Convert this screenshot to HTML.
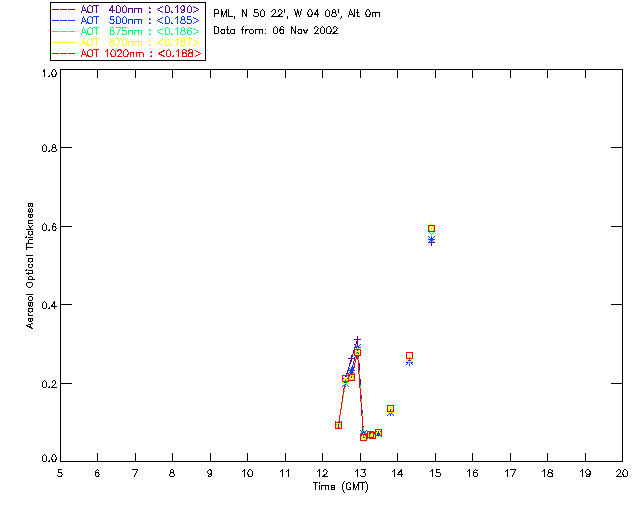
<!DOCTYPE html>
<html><head><meta charset="utf-8"><title>AOT plot</title>
<style>
html,body{margin:0;padding:0;background:#fff;font-family:"Liberation Sans",sans-serif;}
svg{display:block;}
</style></head><body>
<svg width="640" height="512" viewBox="0 0 640 512" shape-rendering="crispEdges" fill="none" stroke-width="1" stroke-linecap="square" stroke-linejoin="miter">
<rect x="0" y="0" width="640" height="512" fill="#fff" stroke="none"/>
<g stroke="#000">
<rect x="60.5" y="69.5" width="562" height="392"/>
<path d="M97.5 453V462M97.5 69V78M135.5 453V462M135.5 69V78M172.5 453V462M172.5 69V78M210.5 453V462M210.5 69V78M247.5 453V462M247.5 69V78M285.5 453V462M285.5 69V78M322.5 453V462M322.5 69V78M360.5 453V462M360.5 69V78M397.5 453V462M397.5 69V78M435.5 453V462M435.5 69V78M472.5 453V462M472.5 69V78M510.5 453V462M510.5 69V78M547.5 453V462M547.5 69V78M585.5 453V462M585.5 69V78M60 383.5H72M611 383.5H623M60 304.5H72M611 304.5H623M60 226.5H72M611 226.5H623M60 147.5H72M611 147.5H623" stroke-linecap="butt"/>
<rect x="50.5" y="2.5" width="155" height="58"/>
</g>
<path d="M52.5 9.5 58.5 9.5M60.5 9.5 66.5 9.5M68.5 9.5 74.5 9.5M81.5 12.5 83.5 5.5 86.5 12.5M82.5 10.5 85.5 10.5M87.5 8.5 87.5 7.5 88.5 6.5 89.5 5.5 90.5 5.5 91.5 6.5 92.5 6.5 92.5 7.5 92.5 8.5 92.5 10.5 92.5 11.5 91.5 12.5 90.5 12.5 89.5 12.5 88.5 12.5 88.5 11.5 87.5 11.5 87.5 10.5 87.5 8.5M93.5 5.5 98.5 5.5M96.5 5.5 96.5 12.5M112.5 12.5 112.5 5.5 109.5 10.5 114.5 10.5M116.5 8.5 116.5 7.5 116.5 6.5 117.5 5.5 118.5 5.5 119.5 6.5 120.5 7.5 120.5 8.5 120.5 9.5 120.5 11.5 119.5 12.5 118.5 12.5 117.5 12.5 116.5 12.5 116.5 11.5 116.5 9.5 116.5 8.5M122.5 8.5 122.5 7.5 123.5 6.5 124.5 5.5 125.5 6.5 126.5 7.5 126.5 8.5 126.5 9.5 126.5 11.5 125.5 12.5 124.5 12.5 123.5 12.5 122.5 11.5 122.5 9.5 122.5 8.5M128.5 8.5 128.5 12.5M128.5 9.5 129.5 8.5 130.5 8.5 131.5 8.5 132.5 8.5 132.5 9.5 132.5 12.5M134.5 8.5 134.5 12.5M134.5 9.5 135.5 8.5 136.5 8.5 137.5 8.5 138.5 8.5 138.5 9.5 138.5 12.5M138.5 9.5 139.5 8.5 140.5 8.5 141.5 8.5 141.5 9.5 141.5 12.5M149.5 8.5 149.5 7.5 150.5 8.5 149.5 8.5M149.5 12.5 149.5 11.5 150.5 12.5 149.5 12.5M162.5 6.5 157.5 9.5 162.5 12.5M165.5 8.5 165.5 7.5 165.5 6.5 166.5 5.5 167.5 5.5 168.5 6.5 169.5 7.5 169.5 8.5 169.5 9.5 169.5 11.5 168.5 12.5 167.5 12.5 166.5 12.5 165.5 12.5 165.5 11.5 165.5 9.5 165.5 8.5M171.5 12.5 171.5 11.5 172.5 12.5 171.5 12.5M175.5 7.5 176.5 6.5 177.5 5.5 177.5 12.5M181.5 11.5 181.5 12.5 182.5 12.5 183.5 12.5 184.5 11.5 184.5 9.5 184.5 8.5 184.5 6.5 183.5 6.5 183.5 5.5 182.5 5.5 181.5 6.5 180.5 7.5 180.5 8.5 181.5 9.5 182.5 10.5 183.5 10.5 183.5 9.5 184.5 9.5 184.5 8.5M187.5 8.5 187.5 7.5 188.5 6.5 189.5 5.5 190.5 6.5 191.5 7.5 191.5 8.5 191.5 9.5 191.5 11.5 190.5 12.5 189.5 12.5 188.5 12.5 187.5 11.5 187.5 9.5 187.5 8.5M193.5 6.5 198.5 9.5 193.5 12.5" stroke="#5A009E" stroke-linejoin="bevel"/>
<path d="M52.5 20.5 58.5 20.5M60.5 20.5 66.5 20.5M68.5 20.5 74.5 20.5M81.5 23.5 83.5 16.5 86.5 23.5M82.5 21.5 85.5 21.5M87.5 19.5 87.5 18.5 88.5 17.5 89.5 16.5 90.5 16.5 91.5 17.5 92.5 17.5 92.5 18.5 92.5 19.5 92.5 21.5 92.5 22.5 91.5 23.5 90.5 23.5 89.5 23.5 88.5 23.5 88.5 22.5 87.5 22.5 87.5 21.5 87.5 19.5M93.5 16.5 98.5 16.5M96.5 16.5 96.5 23.5M109.5 22.5 110.5 23.5 111.5 23.5 112.5 23.5 113.5 23.5 113.5 22.5 114.5 21.5 113.5 20.5 113.5 19.5 112.5 19.5 111.5 19.5 110.5 19.5 110.5 16.5 113.5 16.5M116.5 19.5 116.5 18.5 116.5 17.5 117.5 16.5 118.5 16.5 119.5 17.5 120.5 18.5 120.5 19.5 120.5 20.5 120.5 22.5 119.5 23.5 118.5 23.5 117.5 23.5 116.5 23.5 116.5 22.5 116.5 20.5 116.5 19.5M122.5 19.5 122.5 18.5 123.5 17.5 124.5 16.5 125.5 17.5 126.5 18.5 126.5 19.5 126.5 20.5 126.5 22.5 125.5 23.5 124.5 23.5 123.5 23.5 122.5 22.5 122.5 20.5 122.5 19.5M128.5 19.5 128.5 23.5M128.5 20.5 129.5 19.5 130.5 19.5 131.5 19.5 132.5 19.5 132.5 20.5 132.5 23.5M134.5 19.5 134.5 23.5M134.5 20.5 135.5 19.5 136.5 19.5 137.5 19.5 138.5 19.5 138.5 20.5 138.5 23.5M138.5 20.5 139.5 19.5 140.5 19.5 141.5 19.5 141.5 20.5 141.5 23.5M149.5 19.5 149.5 18.5 150.5 19.5 149.5 19.5M149.5 23.5 149.5 22.5 150.5 23.5 149.5 23.5M162.5 17.5 157.5 20.5 162.5 23.5M165.5 19.5 165.5 18.5 165.5 17.5 166.5 16.5 167.5 16.5 168.5 17.5 169.5 18.5 169.5 19.5 169.5 20.5 169.5 22.5 168.5 23.5 167.5 23.5 166.5 23.5 165.5 23.5 165.5 22.5 165.5 20.5 165.5 19.5M171.5 23.5 171.5 22.5 172.5 23.5 171.5 23.5M175.5 18.5 176.5 17.5 177.5 16.5 177.5 23.5M180.5 21.5 181.5 20.5 182.5 19.5 183.5 19.5 184.5 19.5 184.5 18.5 184.5 17.5 183.5 16.5 182.5 16.5 181.5 17.5 181.5 18.5 181.5 19.5 182.5 19.5 183.5 19.5 184.5 20.5 185.5 21.5 185.5 22.5 184.5 23.5 183.5 23.5 182.5 23.5 181.5 23.5 180.5 22.5 180.5 21.5M187.5 22.5 187.5 23.5 188.5 23.5 189.5 23.5 190.5 23.5 191.5 22.5 191.5 21.5 191.5 20.5 190.5 19.5 189.5 19.5 188.5 19.5 187.5 19.5 187.5 16.5 190.5 16.5M193.5 17.5 198.5 20.5 193.5 23.5" stroke="#0A3CFF" stroke-linejoin="bevel"/>
<path d="M52.5 31.5 58.5 31.5M60.5 31.5 66.5 31.5M68.5 31.5 74.5 31.5M81.5 34.5 83.5 27.5 86.5 34.5M82.5 32.5 85.5 32.5M87.5 30.5 87.5 29.5 88.5 28.5 89.5 27.5 90.5 27.5 91.5 28.5 92.5 28.5 92.5 29.5 92.5 30.5 92.5 32.5 92.5 33.5 91.5 34.5 90.5 34.5 89.5 34.5 88.5 34.5 88.5 33.5 87.5 33.5 87.5 32.5 87.5 30.5M93.5 27.5 98.5 27.5M96.5 27.5 96.5 34.5M110.5 32.5 110.5 33.5 110.5 34.5 111.5 34.5 112.5 34.5 113.5 34.5 113.5 33.5 114.5 32.5 113.5 31.5 113.5 30.5 112.5 30.5 111.5 30.5 110.5 30.5 110.5 31.5 110.5 32.5 110.5 30.5 110.5 29.5 110.5 28.5 111.5 27.5 112.5 27.5 113.5 28.5M116.5 27.5 120.5 27.5 117.5 34.5M122.5 33.5 122.5 34.5 123.5 34.5 124.5 34.5 125.5 34.5 126.5 33.5 126.5 32.5 126.5 31.5 125.5 30.5 124.5 30.5 123.5 30.5 122.5 30.5 122.5 27.5 126.5 27.5M128.5 30.5 128.5 34.5M128.5 31.5 129.5 30.5 130.5 30.5 131.5 30.5 132.5 30.5 132.5 31.5 132.5 34.5M134.5 30.5 134.5 34.5M134.5 31.5 135.5 30.5 136.5 30.5 137.5 30.5 138.5 30.5 138.5 31.5 138.5 34.5M138.5 31.5 139.5 30.5 140.5 30.5 141.5 30.5 141.5 31.5 141.5 34.5M149.5 30.5 149.5 29.5 150.5 30.5 149.5 30.5M149.5 34.5 149.5 33.5 150.5 34.5 149.5 34.5M162.5 28.5 157.5 31.5 162.5 34.5M165.5 30.5 165.5 29.5 165.5 28.5 166.5 27.5 167.5 27.5 168.5 28.5 169.5 29.5 169.5 30.5 169.5 31.5 169.5 33.5 168.5 34.5 167.5 34.5 166.5 34.5 165.5 34.5 165.5 33.5 165.5 31.5 165.5 30.5M171.5 34.5 171.5 33.5 172.5 34.5 171.5 34.5M175.5 29.5 176.5 28.5 177.5 27.5 177.5 34.5M180.5 32.5 181.5 31.5 182.5 30.5 183.5 30.5 184.5 30.5 184.5 29.5 184.5 28.5 183.5 27.5 182.5 27.5 181.5 28.5 181.5 29.5 181.5 30.5 182.5 30.5 183.5 30.5 184.5 31.5 185.5 32.5 185.5 33.5 184.5 34.5 183.5 34.5 182.5 34.5 181.5 34.5 180.5 33.5 180.5 32.5M187.5 32.5 187.5 33.5 188.5 34.5 189.5 34.5 190.5 34.5 191.5 33.5 191.5 32.5 191.5 31.5 190.5 30.5 189.5 30.5 188.5 30.5 187.5 31.5 187.5 32.5 187.5 30.5 187.5 29.5 188.5 28.5 189.5 27.5 190.5 28.5 191.5 28.5M193.5 28.5 198.5 31.5 193.5 34.5" stroke="#00FF73" stroke-linejoin="bevel"/>
<path d="M52.5 42.5 58.5 42.5M60.5 42.5 66.5 42.5M68.5 42.5 74.5 42.5M81.5 45.5 83.5 38.5 86.5 45.5M82.5 43.5 85.5 43.5M87.5 41.5 87.5 40.5 88.5 39.5 89.5 38.5 90.5 38.5 91.5 39.5 92.5 39.5 92.5 40.5 92.5 41.5 92.5 43.5 92.5 44.5 91.5 45.5 90.5 45.5 89.5 45.5 88.5 45.5 88.5 44.5 87.5 44.5 87.5 43.5 87.5 41.5M93.5 38.5 98.5 38.5M96.5 38.5 96.5 45.5M109.5 43.5 110.5 42.5 111.5 41.5 112.5 41.5 113.5 41.5 113.5 40.5 113.5 39.5 112.5 38.5 111.5 38.5 110.5 39.5 110.5 40.5 110.5 41.5 112.5 41.5 113.5 42.5 114.5 43.5 114.5 44.5 113.5 45.5 112.5 45.5 111.5 45.5 110.5 45.5 109.5 44.5 109.5 43.5M116.5 38.5 120.5 38.5 117.5 45.5M122.5 41.5 122.5 40.5 123.5 39.5 124.5 38.5 125.5 39.5 126.5 40.5 126.5 41.5 126.5 42.5 126.5 44.5 125.5 45.5 124.5 45.5 123.5 45.5 122.5 44.5 122.5 42.5 122.5 41.5M128.5 41.5 128.5 45.5M128.5 42.5 129.5 41.5 130.5 41.5 131.5 41.5 132.5 41.5 132.5 42.5 132.5 45.5M134.5 41.5 134.5 45.5M134.5 42.5 135.5 41.5 136.5 41.5 137.5 41.5 138.5 41.5 138.5 42.5 138.5 45.5M138.5 42.5 139.5 41.5 140.5 41.5 141.5 41.5 141.5 42.5 141.5 45.5M149.5 41.5 149.5 40.5 150.5 41.5 149.5 41.5M149.5 45.5 149.5 44.5 150.5 45.5 149.5 45.5M162.5 39.5 157.5 42.5 162.5 45.5M165.5 41.5 165.5 40.5 165.5 39.5 166.5 38.5 167.5 38.5 168.5 39.5 169.5 40.5 169.5 41.5 169.5 42.5 169.5 44.5 168.5 45.5 167.5 45.5 166.5 45.5 165.5 45.5 165.5 44.5 165.5 42.5 165.5 41.5M171.5 45.5 171.5 44.5 172.5 45.5 171.5 45.5M175.5 40.5 176.5 39.5 177.5 38.5 177.5 45.5M180.5 43.5 181.5 42.5 182.5 41.5 183.5 41.5 184.5 41.5 184.5 40.5 184.5 39.5 183.5 38.5 182.5 38.5 181.5 39.5 181.5 40.5 181.5 41.5 182.5 41.5 183.5 41.5 184.5 42.5 185.5 43.5 185.5 44.5 184.5 45.5 183.5 45.5 182.5 45.5 181.5 45.5 180.5 44.5 180.5 43.5M187.5 38.5 191.5 38.5 188.5 45.5M193.5 39.5 198.5 42.5 193.5 45.5" stroke="#FFFF00" stroke-linejoin="bevel"/>
<path d="M52.5 53.5 58.5 53.5M60.5 53.5 66.5 53.5M68.5 53.5 74.5 53.5M81.5 56.5 83.5 49.5 86.5 56.5M82.5 54.5 85.5 54.5M87.5 52.5 87.5 51.5 88.5 50.5 89.5 49.5 90.5 49.5 91.5 50.5 92.5 50.5 92.5 51.5 92.5 52.5 92.5 54.5 92.5 55.5 91.5 56.5 90.5 56.5 89.5 56.5 88.5 56.5 88.5 55.5 87.5 55.5 87.5 54.5 87.5 52.5M93.5 49.5 98.5 49.5M96.5 49.5 96.5 56.5M105.5 51.5 106.5 50.5 107.5 49.5 107.5 56.5M110.5 52.5 111.5 51.5 111.5 50.5 112.5 49.5 113.5 49.5 114.5 50.5 115.5 51.5 115.5 52.5 115.5 53.5 115.5 55.5 114.5 56.5 113.5 56.5 112.5 56.5 111.5 56.5 111.5 55.5 110.5 53.5 110.5 52.5M117.5 51.5 117.5 50.5 118.5 50.5 118.5 49.5 120.5 49.5 120.5 50.5 121.5 50.5 121.5 51.5 121.5 52.5 120.5 53.5 117.5 56.5 121.5 56.5M123.5 52.5 123.5 51.5 124.5 50.5 125.5 49.5 126.5 49.5 127.5 50.5 127.5 51.5 128.5 52.5 128.5 53.5 127.5 55.5 127.5 56.5 126.5 56.5 125.5 56.5 124.5 56.5 123.5 55.5 123.5 53.5 123.5 52.5M130.5 52.5 130.5 56.5M130.5 53.5 131.5 52.5 132.5 52.5 133.5 52.5 133.5 53.5 133.5 56.5M136.5 52.5 136.5 56.5M136.5 53.5 137.5 52.5 138.5 52.5 139.5 52.5 139.5 53.5 139.5 56.5M139.5 53.5 140.5 52.5 141.5 52.5 142.5 52.5 143.5 53.5 143.5 56.5M150.5 52.5 151.5 51.5 151.5 52.5 150.5 52.5M150.5 56.5 151.5 55.5 151.5 56.5 150.5 56.5M164.5 50.5 158.5 53.5 164.5 56.5M166.5 52.5 166.5 51.5 167.5 50.5 168.5 49.5 169.5 50.5 170.5 51.5 170.5 52.5 170.5 53.5 170.5 55.5 169.5 56.5 168.5 56.5 167.5 56.5 166.5 55.5 166.5 53.5 166.5 52.5M172.5 56.5 173.5 55.5 173.5 56.5 172.5 56.5M176.5 51.5 177.5 50.5 178.5 49.5 178.5 56.5M182.5 54.5 182.5 53.5 183.5 53.5 183.5 52.5 185.5 52.5 186.5 51.5 186.5 50.5 185.5 50.5 184.5 49.5 183.5 49.5 182.5 50.5 182.5 51.5 182.5 52.5 183.5 52.5 184.5 52.5 185.5 53.5 186.5 53.5 186.5 54.5 186.5 55.5 186.5 56.5 185.5 56.5 184.5 56.5 183.5 56.5 182.5 56.5 182.5 55.5 182.5 54.5M188.5 54.5 188.5 53.5 189.5 53.5 190.5 52.5 191.5 52.5 192.5 52.5 192.5 51.5 192.5 50.5 191.5 49.5 189.5 49.5 189.5 50.5 188.5 50.5 188.5 51.5 189.5 52.5 190.5 52.5 191.5 53.5 192.5 53.5 192.5 54.5 192.5 55.5 192.5 56.5 191.5 56.5 189.5 56.5 188.5 56.5 188.5 55.5 188.5 54.5M195.5 50.5 200.5 53.5 195.5 56.5" stroke="#FF0000" stroke-linejoin="bevel"/>
<path d="M214.5 13.5 214.5 16.5M214.5 13.5 214.5 9.5 217.5 9.5 218.5 10.5 218.5 11.5 218.5 12.5 218.5 13.5 217.5 13.5 214.5 13.5M221.5 16.5 221.5 9.5 223.5 16.5 226.5 9.5 226.5 16.5M228.5 9.5 228.5 16.5 232.5 16.5M234.5 18.5 234.5 17.5 234.5 16.5M242.5 16.5 242.5 9.5 246.5 16.5 246.5 9.5M253.5 15.5 254.5 16.5 255.5 16.5 256.5 16.5 257.5 16.5 258.5 15.5 258.5 14.5 258.5 13.5 257.5 12.5 256.5 12.5 255.5 12.5 254.5 12.5 254.5 9.5 257.5 9.5M260.5 12.5 260.5 11.5 261.5 10.5 262.5 9.5 263.5 10.5 264.5 11.5 264.5 12.5 264.5 13.5 264.5 15.5 263.5 16.5 262.5 16.5 261.5 16.5 260.5 15.5 260.5 13.5 260.5 12.5M271.5 11.5 272.5 10.5 273.5 9.5 274.5 9.5 275.5 10.5 275.5 11.5 275.5 12.5 274.5 13.5 271.5 16.5 276.5 16.5M278.5 11.5 278.5 10.5 279.5 9.5 280.5 9.5 281.5 10.5 282.5 11.5 281.5 12.5 281.5 13.5 277.5 16.5 282.5 16.5M284.5 9.5 284.5 12.5M287.5 18.5 287.5 17.5 287.5 16.5M294.5 9.5 296.5 16.5 297.5 9.5 299.5 16.5 301.5 9.5M307.5 12.5 308.5 11.5 308.5 10.5 309.5 9.5 310.5 9.5 311.5 10.5 311.5 11.5 312.5 12.5 312.5 13.5 311.5 15.5 311.5 16.5 310.5 16.5 309.5 16.5 308.5 16.5 308.5 15.5 307.5 13.5 307.5 12.5M317.5 16.5 317.5 9.5 314.5 14.5 318.5 14.5M325.5 12.5 325.5 11.5 326.5 10.5 327.5 9.5 328.5 10.5 329.5 11.5 329.5 12.5 329.5 13.5 329.5 15.5 328.5 16.5 327.5 16.5 326.5 16.5 325.5 15.5 325.5 13.5 325.5 12.5M331.5 14.5 332.5 13.5 333.5 12.5 334.5 12.5 335.5 12.5 335.5 11.5 335.5 10.5 334.5 9.5 333.5 9.5 332.5 10.5 332.5 11.5 332.5 12.5 334.5 12.5 335.5 13.5 336.5 14.5 336.5 15.5 335.5 16.5 334.5 16.5 333.5 16.5 332.5 16.5 331.5 15.5 331.5 14.5M338.5 9.5 338.5 12.5M340.5 18.5 341.5 17.5 341.5 16.5 340.5 16.5 341.5 16.5M348.5 16.5 350.5 9.5 353.5 16.5M349.5 14.5 352.5 14.5M354.5 9.5 354.5 16.5M356.5 12.5 358.5 12.5M357.5 9.5 357.5 15.5 357.5 16.5 358.5 16.5 359.5 16.5M365.5 12.5 366.5 11.5 366.5 10.5 367.5 9.5 368.5 9.5 369.5 10.5 369.5 11.5 370.5 12.5 370.5 13.5 369.5 15.5 369.5 16.5 368.5 16.5 367.5 16.5 366.5 16.5 366.5 15.5 365.5 13.5 365.5 12.5M372.5 12.5 372.5 16.5M372.5 13.5 373.5 12.5 374.5 12.5 375.5 12.5 375.5 13.5 375.5 16.5M375.5 13.5 376.5 12.5 377.5 12.5 378.5 12.5 379.5 12.5 379.5 13.5 379.5 16.5" stroke="#000" stroke-linejoin="bevel"/>
<path d="M214.5 26.5 214.5 33.5 216.5 33.5 217.5 33.5 218.5 32.5 218.5 31.5 218.5 29.5 218.5 28.5 218.5 27.5 217.5 27.5 216.5 26.5 214.5 26.5M224.5 29.5 224.5 33.5M224.5 30.5 223.5 29.5 222.5 29.5 221.5 29.5 221.5 30.5 220.5 31.5 221.5 32.5 221.5 33.5 222.5 33.5 223.5 33.5 224.5 32.5M226.5 29.5 228.5 29.5M227.5 26.5 227.5 32.5 227.5 33.5 228.5 33.5 229.5 33.5M234.5 29.5 234.5 33.5M234.5 30.5 233.5 29.5 232.5 29.5 231.5 29.5 230.5 30.5 230.5 31.5 230.5 32.5 231.5 33.5 232.5 33.5 233.5 33.5 234.5 32.5M241.5 29.5 243.5 29.5M242.5 33.5 242.5 28.5 242.5 27.5 243.5 26.5M245.5 29.5 245.5 33.5M245.5 31.5 246.5 30.5 246.5 29.5 247.5 29.5 248.5 29.5M249.5 31.5 249.5 30.5 250.5 29.5 251.5 29.5 252.5 29.5 253.5 30.5 253.5 31.5 253.5 32.5 252.5 33.5 251.5 33.5 250.5 33.5 249.5 32.5 249.5 31.5M255.5 29.5 255.5 33.5M255.5 30.5 256.5 29.5 257.5 29.5 258.5 29.5 259.5 29.5 259.5 30.5 259.5 33.5M259.5 30.5 260.5 29.5 261.5 29.5 262.5 29.5 262.5 30.5 262.5 33.5M265.5 29.5 265.5 28.5 265.5 29.5M265.5 33.5 265.5 32.5 265.5 33.5M273.5 29.5 273.5 28.5 274.5 27.5 275.5 26.5 276.5 27.5 277.5 28.5 277.5 29.5 277.5 30.5 277.5 32.5 276.5 33.5 275.5 33.5 274.5 33.5 273.5 32.5 273.5 30.5 273.5 29.5M279.5 31.5 280.5 32.5 280.5 33.5 281.5 33.5 282.5 33.5 283.5 33.5 283.5 32.5 283.5 31.5 283.5 30.5 283.5 29.5 282.5 29.5 281.5 29.5 280.5 29.5 280.5 30.5 279.5 31.5 279.5 29.5 280.5 28.5 280.5 27.5 281.5 26.5 282.5 26.5 283.5 27.5M291.5 33.5 291.5 26.5 295.5 33.5 295.5 26.5M297.5 31.5 298.5 30.5 298.5 29.5 299.5 29.5 300.5 29.5 301.5 29.5 301.5 30.5 301.5 31.5 301.5 32.5 301.5 33.5 300.5 33.5 299.5 33.5 298.5 33.5 298.5 32.5 297.5 31.5M303.5 29.5 305.5 33.5 307.5 29.5M314.5 28.5 314.5 27.5 315.5 26.5 316.5 26.5 317.5 27.5 318.5 28.5 317.5 29.5 317.5 30.5 314.5 33.5 318.5 33.5M320.5 29.5 320.5 28.5 321.5 27.5 322.5 26.5 323.5 27.5 324.5 28.5 324.5 29.5 324.5 30.5 324.5 32.5 323.5 33.5 322.5 33.5 321.5 33.5 320.5 32.5 320.5 30.5 320.5 29.5M326.5 29.5 326.5 28.5 327.5 27.5 328.5 26.5 329.5 26.5 330.5 27.5 330.5 28.5 331.5 29.5 331.5 30.5 330.5 32.5 330.5 33.5 329.5 33.5 328.5 33.5 327.5 33.5 326.5 32.5 326.5 30.5 326.5 29.5M333.5 28.5 333.5 27.5 334.5 26.5 335.5 26.5 336.5 27.5 337.5 28.5 336.5 29.5 336.5 30.5 332.5 33.5 337.5 33.5" stroke="#000" stroke-linejoin="bevel"/>
<path d="M57.5 475.5 58.5 476.5 59.5 476.5 60.5 476.5 61.5 476.5 61.5 475.5 62.5 474.5 61.5 473.5 61.5 472.5 60.5 472.5 59.5 472.5 58.5 472.5 58.5 469.5 61.5 469.5" stroke="#000" stroke-linejoin="bevel"/>
<path d="M95.5 474.5 95.5 475.5 96.5 476.5 97.5 476.5 98.5 476.5 98.5 475.5 99.5 474.5 98.5 473.5 98.5 472.5 97.5 472.5 96.5 472.5 95.5 473.5 95.5 474.5 95.5 472.5 95.5 471.5 96.5 470.5 97.5 469.5 98.5 470.5" stroke="#000" stroke-linejoin="bevel"/>
<path d="M132.5 469.5 137.5 469.5 134.5 476.5" stroke="#000" stroke-linejoin="bevel"/>
<path d="M169.5 474.5 170.5 473.5 171.5 472.5 172.5 472.5 173.5 472.5 173.5 471.5 173.5 470.5 172.5 469.5 171.5 469.5 170.5 470.5 170.5 471.5 170.5 472.5 171.5 472.5 172.5 472.5 173.5 473.5 174.5 474.5 174.5 475.5 173.5 476.5 172.5 476.5 171.5 476.5 170.5 476.5 169.5 475.5 169.5 474.5" stroke="#000" stroke-linejoin="bevel"/>
<path d="M208.5 475.5 208.5 476.5 209.5 476.5 210.5 476.5 211.5 475.5 211.5 473.5 211.5 472.5 211.5 470.5 210.5 470.5 210.5 469.5 209.5 469.5 208.5 470.5 207.5 471.5 207.5 472.5 208.5 473.5 209.5 474.5 210.5 474.5 210.5 473.5 211.5 473.5 211.5 472.5" stroke="#000" stroke-linejoin="bevel"/>
<path d="M242.5 471.5 243.5 470.5 244.5 469.5 244.5 476.5M247.5 472.5 248.5 471.5 248.5 470.5 249.5 469.5 250.5 469.5 251.5 470.5 252.5 471.5 252.5 472.5 252.5 473.5 252.5 475.5 251.5 476.5 250.5 476.5 249.5 476.5 248.5 476.5 248.5 475.5 247.5 473.5 247.5 472.5" stroke="#000" stroke-linejoin="bevel"/>
<path d="M280.5 471.5 281.5 470.5 282.5 469.5 282.5 476.5M286.5 471.5 287.5 470.5 288.5 469.5 288.5 476.5" stroke="#000" stroke-linejoin="bevel"/>
<path d="M317.5 471.5 318.5 470.5 319.5 469.5 319.5 476.5M323.5 471.5 323.5 470.5 324.5 469.5 325.5 469.5 326.5 470.5 327.5 471.5 326.5 472.5 326.5 473.5 322.5 476.5 327.5 476.5" stroke="#000" stroke-linejoin="bevel"/>
<path d="M355.5 471.5 356.5 470.5 357.5 469.5 357.5 476.5M360.5 475.5 361.5 476.5 362.5 476.5 363.5 476.5 364.5 476.5 365.5 475.5 365.5 474.5 365.5 473.5 364.5 472.5 363.5 472.5 365.5 469.5 361.5 469.5" stroke="#000" stroke-linejoin="bevel"/>
<path d="M392.5 471.5 393.5 470.5 394.5 469.5 394.5 476.5M401.5 476.5 401.5 469.5 397.5 474.5 402.5 474.5" stroke="#000" stroke-linejoin="bevel"/>
<path d="M430.5 471.5 431.5 470.5 432.5 469.5 432.5 476.5M435.5 475.5 436.5 476.5 437.5 476.5 438.5 476.5 439.5 476.5 440.5 475.5 440.5 474.5 440.5 473.5 439.5 472.5 438.5 472.5 437.5 472.5 436.5 472.5 436.5 469.5 439.5 469.5" stroke="#000" stroke-linejoin="bevel"/>
<path d="M467.5 471.5 468.5 470.5 469.5 469.5 469.5 476.5M473.5 474.5 473.5 475.5 474.5 476.5 475.5 476.5 476.5 476.5 477.5 475.5 477.5 474.5 477.5 473.5 476.5 472.5 475.5 472.5 474.5 472.5 473.5 473.5 473.5 474.5 473.5 472.5 473.5 471.5 474.5 470.5 475.5 469.5 476.5 470.5 477.5 470.5" stroke="#000" stroke-linejoin="bevel"/>
<path d="M505.5 471.5 506.5 470.5 507.5 469.5 507.5 476.5M510.5 469.5 515.5 469.5 512.5 476.5" stroke="#000" stroke-linejoin="bevel"/>
<path d="M542.5 471.5 543.5 470.5 544.5 469.5 544.5 476.5M547.5 474.5 548.5 473.5 549.5 472.5 551.5 472.5 552.5 471.5 552.5 470.5 551.5 470.5 550.5 469.5 549.5 469.5 548.5 470.5 548.5 471.5 548.5 472.5 549.5 472.5 550.5 472.5 551.5 473.5 552.5 473.5 552.5 474.5 552.5 475.5 552.5 476.5 551.5 476.5 550.5 476.5 549.5 476.5 548.5 476.5 547.5 475.5 547.5 474.5" stroke="#000" stroke-linejoin="bevel"/>
<path d="M580.5 471.5 581.5 470.5 582.5 469.5 582.5 476.5M586.5 475.5 586.5 476.5 587.5 476.5 588.5 476.5 589.5 476.5 589.5 475.5 590.5 473.5 590.5 472.5 589.5 470.5 588.5 469.5 587.5 469.5 586.5 470.5 585.5 471.5 585.5 472.5 586.5 473.5 587.5 474.5 588.5 474.5 589.5 473.5 590.5 472.5" stroke="#000" stroke-linejoin="bevel"/>
<path d="M616.5 471.5 617.5 470.5 618.5 469.5 619.5 469.5 620.5 470.5 620.5 471.5 620.5 472.5 619.5 473.5 616.5 476.5 621.5 476.5M622.5 472.5 623.5 471.5 623.5 470.5 624.5 469.5 625.5 469.5 626.5 470.5 627.5 471.5 627.5 472.5 627.5 473.5 627.5 475.5 626.5 476.5 625.5 476.5 624.5 476.5 623.5 476.5 623.5 475.5 622.5 473.5 622.5 472.5" stroke="#000" stroke-linejoin="bevel"/>
<path d="M313.5 482.5 317.5 482.5M315.5 482.5 315.5 489.5M319.5 485.5 319.5 489.5M319.5 482.5 319.5 483.5 319.5 482.5M321.5 485.5 321.5 489.5M321.5 486.5 322.5 485.5 323.5 485.5 324.5 485.5 325.5 485.5 325.5 486.5 325.5 489.5M325.5 486.5 326.5 485.5 327.5 485.5 328.5 485.5 328.5 486.5 328.5 489.5M331.5 487.5 331.5 486.5 331.5 485.5 332.5 485.5 333.5 485.5 334.5 485.5 334.5 486.5 334.5 487.5 331.5 487.5 331.5 488.5 331.5 489.5 332.5 489.5 333.5 489.5 334.5 489.5 334.5 488.5M344.5 481.5 343.5 482.5 343.5 483.5 342.5 484.5 342.5 486.5 342.5 487.5 342.5 489.5 343.5 490.5 343.5 491.5 344.5 492.5M349.5 487.5 350.5 487.5 350.5 488.5 350.5 489.5 349.5 489.5 348.5 489.5 347.5 489.5 346.5 488.5 346.5 487.5 346.5 485.5 346.5 484.5 346.5 483.5 347.5 483.5 348.5 482.5 349.5 482.5 350.5 483.5 350.5 484.5M353.5 489.5 353.5 482.5 355.5 489.5 358.5 482.5 358.5 489.5M359.5 482.5 364.5 482.5M362.5 482.5 362.5 489.5M365.5 481.5 366.5 482.5 366.5 483.5 367.5 484.5 367.5 486.5 367.5 487.5 367.5 489.5 366.5 490.5 366.5 491.5 365.5 492.5" stroke="#000" stroke-linejoin="bevel"/>
<path d="M42.5 457.5 42.5 456.5 43.5 455.5 44.5 454.5 45.5 455.5 46.5 456.5 46.5 457.5 46.5 458.5 46.5 460.5 45.5 461.5 44.5 461.5 43.5 461.5 42.5 460.5 42.5 458.5 42.5 457.5M48.5 461.5 49.5 460.5 49.5 461.5 48.5 461.5M51.5 457.5 52.5 456.5 52.5 455.5 53.5 454.5 54.5 454.5 55.5 455.5 55.5 456.5 56.5 457.5 56.5 458.5 55.5 460.5 55.5 461.5 54.5 461.5 53.5 461.5 52.5 461.5 52.5 460.5 51.5 458.5 51.5 457.5" stroke="#000" stroke-linejoin="bevel"/>
<path d="M42.5 383.5 42.5 382.5 43.5 381.5 44.5 380.5 45.5 381.5 46.5 382.5 46.5 383.5 46.5 384.5 46.5 386.5 45.5 387.5 44.5 387.5 43.5 387.5 42.5 386.5 42.5 384.5 42.5 383.5M48.5 387.5 49.5 386.5 49.5 387.5 48.5 387.5M52.5 382.5 52.5 381.5 53.5 380.5 54.5 380.5 55.5 381.5 55.5 382.5 55.5 383.5 54.5 384.5 51.5 387.5 56.5 387.5" stroke="#000" stroke-linejoin="bevel"/>
<path d="M42.5 304.5 42.5 303.5 43.5 302.5 44.5 301.5 45.5 302.5 46.5 303.5 46.5 304.5 46.5 305.5 46.5 307.5 45.5 308.5 44.5 308.5 43.5 308.5 42.5 307.5 42.5 305.5 42.5 304.5M48.5 308.5 49.5 307.5 49.5 308.5 48.5 308.5M54.5 308.5 54.5 301.5 51.5 306.5 56.5 306.5" stroke="#000" stroke-linejoin="bevel"/>
<path d="M42.5 226.5 42.5 225.5 43.5 224.5 44.5 223.5 45.5 224.5 46.5 225.5 46.5 226.5 46.5 227.5 46.5 229.5 45.5 230.5 44.5 230.5 43.5 230.5 42.5 229.5 42.5 227.5 42.5 226.5M48.5 230.5 49.5 229.5 49.5 230.5 48.5 230.5M52.5 228.5 52.5 229.5 53.5 230.5 54.5 230.5 55.5 230.5 55.5 229.5 56.5 228.5 55.5 227.5 55.5 226.5 54.5 226.5 53.5 226.5 52.5 227.5 52.5 228.5 52.5 226.5 52.5 225.5 53.5 224.5 53.5 223.5 54.5 223.5 55.5 224.5" stroke="#000" stroke-linejoin="bevel"/>
<path d="M42.5 147.5 42.5 146.5 43.5 145.5 44.5 144.5 45.5 145.5 46.5 146.5 46.5 147.5 46.5 148.5 46.5 150.5 45.5 151.5 44.5 151.5 43.5 151.5 42.5 150.5 42.5 148.5 42.5 147.5M48.5 151.5 49.5 150.5 49.5 151.5 48.5 151.5M51.5 149.5 52.5 148.5 53.5 147.5 54.5 147.5 55.5 147.5 55.5 146.5 55.5 145.5 54.5 144.5 53.5 144.5 52.5 145.5 52.5 146.5 52.5 147.5 53.5 147.5 54.5 147.5 55.5 148.5 56.5 149.5 56.5 150.5 55.5 151.5 54.5 151.5 53.5 151.5 52.5 151.5 51.5 150.5 51.5 149.5" stroke="#000" stroke-linejoin="bevel"/>
<path d="M43.5 71.5 43.5 70.5 44.5 69.5 44.5 76.5M48.5 76.5 49.5 75.5 49.5 76.5 48.5 76.5M51.5 72.5 52.5 71.5 52.5 70.5 53.5 69.5 54.5 69.5 55.5 70.5 55.5 71.5 56.5 72.5 56.5 73.5 55.5 75.5 55.5 76.5 54.5 76.5 53.5 76.5 52.5 76.5 52.5 75.5 51.5 73.5 51.5 72.5" stroke="#000" stroke-linejoin="bevel"/>
<path d="M32.5 328.5 26.5 325.5 32.5 323.5M30.5 327.5 30.5 324.5M30.5 321.5 29.5 321.5 28.5 320.5 28.5 319.5 28.5 318.5 29.5 318.5 30.5 318.5 30.5 321.5 31.5 321.5 32.5 320.5 32.5 319.5 32.5 318.5 31.5 318.5M28.5 315.5 32.5 315.5M30.5 315.5 29.5 315.5 28.5 314.5 28.5 313.5M30.5 312.5 29.5 311.5 28.5 311.5 28.5 310.5 28.5 309.5 28.5 308.5 29.5 308.5 30.5 308.5 31.5 308.5 32.5 308.5 32.5 309.5 32.5 310.5 32.5 311.5 31.5 311.5 30.5 312.5M31.5 306.5 32.5 305.5 32.5 304.5 32.5 303.5 32.5 302.5 31.5 302.5 30.5 302.5 30.5 303.5 30.5 305.5 29.5 305.5 29.5 306.5 28.5 305.5 28.5 304.5 28.5 303.5 28.5 302.5 29.5 302.5M30.5 300.5 29.5 300.5 28.5 299.5 28.5 298.5 28.5 297.5 29.5 296.5 30.5 296.5 31.5 296.5 32.5 297.5 32.5 298.5 32.5 299.5 31.5 300.5 30.5 300.5M26.5 294.5 32.5 294.5M28.5 287.5 27.5 286.5 26.5 285.5 26.5 283.5 27.5 282.5 28.5 282.5 30.5 282.5 31.5 282.5 32.5 283.5 32.5 285.5 31.5 286.5 30.5 287.5 28.5 287.5M28.5 279.5 34.5 279.5M29.5 279.5 28.5 279.5 28.5 278.5 28.5 277.5 29.5 276.5 30.5 276.5 31.5 276.5 32.5 277.5 32.5 278.5 32.5 279.5 31.5 279.5M28.5 274.5 28.5 272.5M26.5 273.5 31.5 273.5 32.5 273.5 32.5 272.5 32.5 271.5M28.5 270.5 32.5 270.5M26.5 270.5 25.5 270.5 26.5 269.5 26.5 270.5M29.5 264.5 28.5 264.5 28.5 265.5 28.5 266.5 29.5 267.5 30.5 267.5 31.5 267.5 32.5 266.5 32.5 265.5 32.5 264.5 31.5 264.5M28.5 258.5 32.5 258.5M29.5 258.5 28.5 259.5 28.5 260.5 28.5 261.5 29.5 261.5 30.5 262.5 31.5 261.5 32.5 261.5 32.5 260.5 32.5 259.5 31.5 258.5M26.5 255.5 32.5 255.5M26.5 249.5 26.5 244.5M26.5 247.5 32.5 247.5M26.5 243.5 32.5 243.5M29.5 243.5 28.5 242.5 28.5 241.5 28.5 240.5 29.5 239.5 32.5 239.5M28.5 237.5 32.5 237.5M26.5 237.5 25.5 237.5 26.5 236.5 26.5 237.5M29.5 231.5 28.5 231.5 28.5 232.5 28.5 233.5 28.5 234.5 29.5 234.5 30.5 235.5 31.5 234.5 32.5 234.5 32.5 233.5 32.5 232.5 32.5 231.5 31.5 231.5M26.5 229.5 32.5 229.5M31.5 229.5 28.5 225.5M30.5 227.5 32.5 225.5M28.5 223.5 32.5 223.5M29.5 223.5 28.5 222.5 28.5 221.5 28.5 220.5 29.5 220.5 32.5 220.5M30.5 217.5 29.5 217.5 28.5 216.5 28.5 215.5 28.5 214.5 29.5 214.5 30.5 214.5 30.5 217.5 31.5 217.5 32.5 216.5 32.5 215.5 32.5 214.5 31.5 214.5M31.5 212.5 32.5 211.5 32.5 210.5 32.5 209.5 31.5 208.5 30.5 209.5 30.5 211.5 29.5 211.5 29.5 212.5 28.5 211.5 28.5 210.5 28.5 209.5 29.5 208.5M31.5 206.5 32.5 206.5 32.5 205.5 32.5 204.5 32.5 203.5 31.5 203.5 30.5 203.5 30.5 204.5 30.5 205.5 29.5 206.5 28.5 206.5 28.5 205.5 28.5 204.5 28.5 203.5 29.5 203.5" stroke="#000" stroke-linejoin="bevel"/>
<g stroke-linejoin="bevel">
<path d="M338.5 425.5 345.5 378.5 351.5 358.5 357.5 339.5 363.5 433.5 370.5 435.5 372.5 435.5 378.5 433.5" stroke="#5A009E"/>
<path d="M338.5 424.5 345.5 383.5 351.5 370.5 357.5 347.5 363.5 433.5 370.5 435.5 372.5 435.5 378.5 433.5" stroke="#0A3CFF"/>
<path d="M338.5 425.5 345.5 382.5 351.5 377.5 357.5 350.5 363.5 433.5 370.5 434.5 372.5 435.5 378.5 433.5" stroke="#00FF73"/>
<path d="M338.5 425.5 345.5 380.5 351.5 377.5 357.5 351.5 363.5 436.5 370.5 434.5 372.5 435.5 378.5 432.5" stroke="#FFFF00"/>
<path d="M338.5 425.5 345.5 378.5 351.5 377.5 357.5 352.5 363.5 437.5 370.5 434.5 372.5 435.5 378.5 432.5" stroke="#FF0000"/>
<path d="M335 425.5H342M338.5 422V429M342 378.5H349M345.5 375V382M348 358.5H355M351.5 355V362M354 339.5H361M357.5 336V343M360 433.5H367M363.5 430V437M367 435.5H374M370.5 432V439M369 435.5H376M372.5 432V439M375 433.5H382M378.5 430V437M387 412.5H394M390.5 409V416M406 362.5H413M409.5 359V366M428 242.5H435M431.5 239V246" stroke="#5A009E" stroke-linecap="butt"/>
<path d="M335 424.5H342M338.5 421V428M335.05 421.05L341.95 427.95M335.05 427.95L341.95 421.05M342 383.5H349M345.5 380V387M342.05 380.05L348.95 386.95M342.05 386.95L348.95 380.05M348 370.5H355M351.5 367V374M348.05 367.05L354.95 373.95M348.05 373.95L354.95 367.05M354 347.5H361M357.5 344V351M354.05 344.05L360.95 350.95M354.05 350.95L360.95 344.05M360 433.5H367M363.5 430V437M360.05 430.05L366.95 436.95M360.05 436.95L366.95 430.05M367 435.5H374M370.5 432V439M367.05 432.05L373.95 438.95M367.05 438.95L373.95 432.05M369 435.5H376M372.5 432V439M369.05 432.05L375.95 438.95M369.05 438.95L375.95 432.05M375 433.5H382M378.5 430V437M375.05 430.05L381.95 436.95M375.05 436.95L381.95 430.05M387 412.5H394M390.5 409V416M387.05 409.05L393.95 415.95M387.05 415.95L393.95 409.05M406 361.5H413M409.5 358V365M406.05 358.05L412.95 364.95M406.05 364.95L412.95 358.05M428 239.5H435M431.5 236V243M428.05 236.05L434.95 242.95M428.05 242.95L434.95 236.05" stroke="#0A3CFF" stroke-linecap="butt"/>
<path d="M335.5 425.5L338.5 422.5L341.5 425.5L338.5 428.5ZM342.5 382.5L345.5 379.5L348.5 382.5L345.5 385.5ZM348.5 377.5L351.5 374.5L354.5 377.5L351.5 380.5ZM354.5 350.5L357.5 347.5L360.5 350.5L357.5 353.5ZM360.5 433.5L363.5 430.5L366.5 433.5L363.5 436.5ZM367.5 434.5L370.5 431.5L373.5 434.5L370.5 437.5ZM369.5 435.5L372.5 432.5L375.5 435.5L372.5 438.5ZM375.5 433.5L378.5 430.5L381.5 433.5L378.5 436.5ZM387.5 410.5L390.5 407.5L393.5 410.5L390.5 413.5ZM406.5 360.5L409.5 357.5L412.5 360.5L409.5 363.5ZM428.5 231.5L431.5 228.5L434.5 231.5L431.5 234.5Z" stroke="#00FF73" stroke-linecap="square"/>
<path d="M335.5 428.5L341.5 428.5L338.5 422.5ZM342.5 383.5L348.5 383.5L345.5 377.5ZM348.5 380.5L354.5 380.5L351.5 374.5ZM354.5 354.5L360.5 354.5L357.5 348.5ZM360.5 439.5L366.5 439.5L363.5 433.5ZM367.5 437.5L373.5 437.5L370.5 431.5ZM369.5 438.5L375.5 438.5L372.5 432.5ZM375.5 435.5L381.5 435.5L378.5 429.5ZM387.5 412.5L393.5 412.5L390.5 406.5ZM406.5 361.5L412.5 361.5L409.5 355.5ZM428.5 229.5L434.5 229.5L431.5 223.5Z" stroke="#FFFF00" stroke-linecap="square"/>
<path d="M335.5 422.5H341.5V428.5H335.5ZM342.5 375.5H348.5V381.5H342.5ZM348.5 374.5H354.5V380.5H348.5ZM354.5 349.5H360.5V355.5H354.5ZM360.5 434.5H366.5V440.5H360.5ZM367.5 431.5H373.5V437.5H367.5ZM369.5 432.5H375.5V438.5H369.5ZM375.5 429.5H381.5V435.5H375.5ZM387.5 405.5H393.5V411.5H387.5ZM406.5 352.5H412.5V358.5H406.5ZM428.5 225.5H434.5V231.5H428.5Z" stroke="#FF0000" stroke-linecap="square"/>
</g>
</svg>
</body></html>
